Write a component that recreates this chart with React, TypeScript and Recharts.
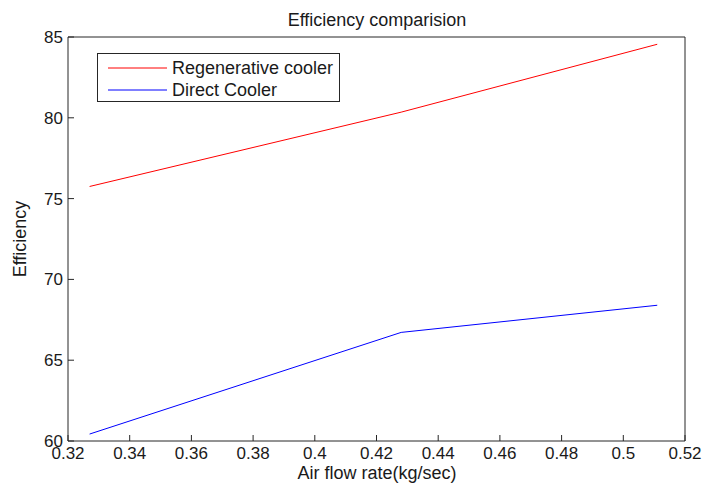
import { LineChart, Line, XAxis, YAxis } from 'recharts';

// values
const airFlow = [0.327, 0.428, 0.511];
const regenerative = [75.75, 80.35, 84.55];
const direct = [60.43, 66.72, 68.4];
const xTicks = [0.32, 0.34, 0.36, 0.38, 0.4, 0.42, 0.44, 0.46, 0.48, 0.5, 0.52];
const yTicks = [60, 65, 70, 75, 80, 85];

const seriesNames = ['Regenerative cooler', 'Direct Cooler'];
const seriesColors = ['#ff0000', '#0000ff'];

const data = airFlow.map((x, i) => ({
  x,
  regen: regenerative[i],
  direct: direct[i],
}));

const FONT = '"Liberation Sans", Arial, Helvetica, sans-serif';
const TEXT = '#1a1a1a';
const AXIS = '#262626';

// legend box drawn over the plot, like matlab's legend in the upper-left
function LegendBox() {
  return (
    <div
      style={{
        position: 'absolute',
        left: 97,
        top: 53,
        width: 241,
        height: 47,
        border: `1px solid ${AXIS}`,
        background: '#fff',
        fontFamily: FONT,
        fontSize: 18,
        color: TEXT,
      }}
    >
      {seriesNames.map((name, i) => (
        <div key={name} style={{ position: 'absolute', left: 0, top: 3 + i * 22, height: 22, width: 241 }}>
          <svg width={70} height={22} style={{ position: 'absolute', left: 0, top: 0 }}>
            <line x1={10} x2={69} y1={11} y2={11} stroke={seriesColors[i]} strokeWidth={1} />
          </svg>
          <span style={{ position: 'absolute', left: 74, top: 0, lineHeight: '22px', whiteSpace: 'nowrap' }}>{name}</span>
        </div>
      ))}
    </div>
  );
}

export default function App() {
  const tickStyle = { fontSize: 17, fill: TEXT, fontFamily: FONT };
  return (
    <div style={{ position: 'absolute', left: 0, top: 0, width: 715, height: 484, background: '#fff' }}>
      <LineChart
        width={715}
        height={484}
        data={data}
        margin={{ top: 36, right: 29, bottom: 0, left: 8 }}
      >
        <XAxis
          xAxisId="bottom"
          dataKey="x"
          type="number"
          domain={[0.32, 0.52]}
          ticks={xTicks}
          tickFormatter={(v: number) => String(v)}
          tick={tickStyle}
          tickSize={-6}
          tickMargin={12}
          height={43}
          stroke={AXIS}
          allowDataOverflow
        />
        <XAxis
          xAxisId="top"
          orientation="top"
          dataKey="x"
          type="number"
          domain={[0.32, 0.52]}
          ticks={xTicks}
          tick={false}
          tickSize={-6}
          height={1}
          stroke={AXIS}
        />
        <YAxis
          yAxisId="left"
          type="number"
          domain={[60, 85]}
          ticks={yTicks}
          tick={tickStyle}
          tickSize={-6}
          tickMargin={11}
          width={60}
          stroke={AXIS}
        />
        <YAxis
          yAxisId="right"
          orientation="right"
          type="number"
          domain={[60, 85]}
          ticks={yTicks}
          tick={false}
          tickSize={-6}
          width={1}
          stroke={AXIS}
        />
        <Line
          xAxisId="bottom"
          yAxisId="left"
          dataKey="regen"
          name={seriesNames[0]}
          stroke={seriesColors[0]}
          strokeWidth={1}
          dot={false}
          isAnimationActive={false}
        />
        <Line
          xAxisId="bottom"
          yAxisId="left"
          dataKey="direct"
          name={seriesNames[1]}
          stroke={seriesColors[1]}
          strokeWidth={1}
          dot={false}
          isAnimationActive={false}
        />
      </LineChart>
      <LegendBox />
      <svg
        width={715}
        height={484}
        style={{ position: 'absolute', left: 0, top: 0, pointerEvents: 'none' }}
      >
        <text x={377} y={26} textAnchor="middle" fontFamily={FONT} fontSize={18} fill={TEXT}>
          Efficiency comparision
        </text>
        <text x={377} y={479} textAnchor="middle" fontFamily={FONT} fontSize={18} fill={TEXT}>
          Air flow rate(kg/sec)
        </text>
        <text
          x={0}
          y={0}
          transform="translate(26 239) rotate(-90)"
          textAnchor="middle"
          fontFamily={FONT}
          fontSize={18}
          fill={TEXT}
        >
          Efficiency
        </text>
      </svg>
    </div>
  );
}
